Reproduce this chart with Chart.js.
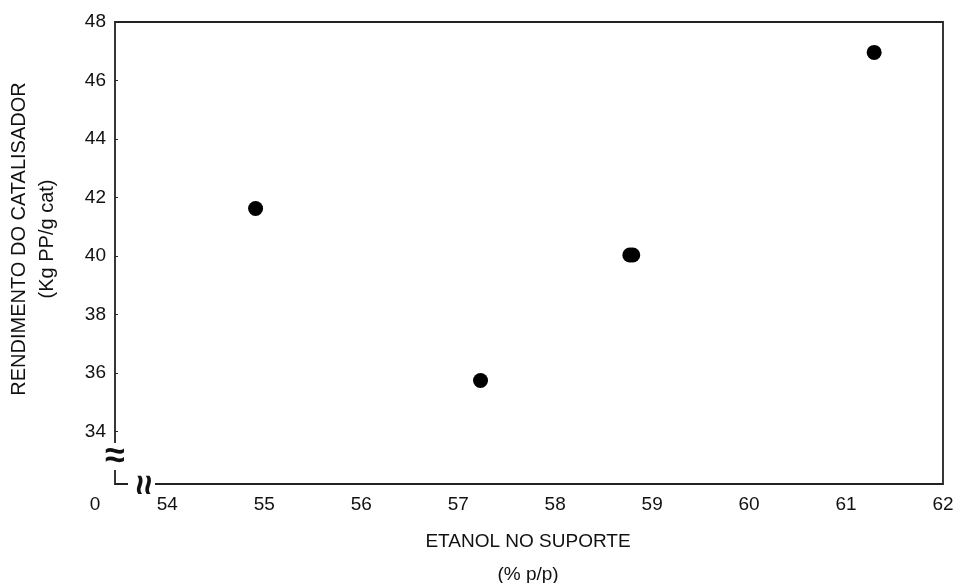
<!DOCTYPE html>
<html>
<head>
<meta charset="utf-8">
<script src="https://cdn.jsdelivr.net/npm/chart.js@4"></script>
<style>
    html, body { margin: 0; padding: 0; background: #fff; overflow: hidden; }
    #wrap { width: 956px; height: 583px; }
</style>
</head>
<body>
<div id="wrap"><canvas id="yieldChart"></canvas></div>
<script>
// Data
// ----------------------------------------------
const etanolValues = [54.91, 57.23, 58.77, 58.80, 61.29];
const rendimentoValues = [41.62, 35.74, 40.03, 40.03, 46.96];
const xTickLabels = [54, 55, 56, 57, 58, 59, 60, 61, 62];
const yTickLabels = [34, 36, 38, 40, 42, 44, 46, 48];

const inkColor = '#111';
const frameColor = '#222';
const fontFamily = '"Liberation Sans", Arial, sans-serif';


// Frame with broken axes, inward ticks and axis titles
// ----------------------------------------------
const framePlugin = {
    id: 'brokenFrame',
    afterDraw(chart) {
        const ctx = chart.ctx;
        const a = chart.chartArea;
        const y = chart.scales.y;
        const yBreak = y.getPixelForValue(33.6);

        ctx.save();
        ctx.strokeStyle = frameColor;
        ctx.lineWidth = 1.8;

        // top, right, bottom (after break), left (above break)
        ctx.beginPath();
        ctx.moveTo(a.left, yBreak);
        ctx.lineTo(a.left, a.top);
        ctx.lineTo(a.right, a.top);
        ctx.lineTo(a.right, a.bottom);
        ctx.lineTo(a.left + 40, a.bottom);
        ctx.stroke();

        // corner piece at the origin
        ctx.beginPath();
        ctx.moveTo(a.left, a.bottom - 14);
        ctx.lineTo(a.left, a.bottom);
        ctx.lineTo(a.left + 13, a.bottom);
        ctx.stroke();

        // inward ticks on y
        ctx.lineWidth = 1;
        yTickLabels.forEach(v => {
            const py = Math.round(y.getPixelForValue(v)) + 0.5;
            ctx.beginPath();
            ctx.moveTo(a.left, py);
            ctx.lineTo(a.left + 3, py);
            ctx.stroke();
        });

        // break symbols
        ctx.fillStyle = inkColor;
        ctx.font = 'bold 36px ' + fontFamily;
        ctx.textAlign = 'center';
        ctx.textBaseline = 'middle';
        ctx.fillText('\u2248', a.left, a.bottom - 27);
        ctx.save();
        ctx.translate(a.left + 27, a.bottom + 1);
        ctx.rotate(Math.PI / 2);
        ctx.fillText('\u2248', 0, 0);
        ctx.restore();

        // origin label
        ctx.font = '19px ' + fontFamily;
        ctx.fillText('0', 95, 505);

        // axis titles
        ctx.fillText('ETANOL NO SUPORTE', 528, 542);
        ctx.fillText('(% p/p)', 528, 575);

        ctx.font = '20px ' + fontFamily;
        ctx.translate(19, 239);
        ctx.rotate(-Math.PI / 2);
        ctx.fillText('RENDIMENTO DO CATALISADOR', 0, 0);
        ctx.fillText('(Kg PP/g cat)', 0, 28);
        ctx.restore();
    }
};


document.addEventListener('DOMContentLoaded', () => {

    const points = etanolValues.map((x, i) => ({ x: x, y: rendimentoValues[i] }));

    new Chart(document.getElementById('yieldChart'), {
        type: 'scatter',
        data: {
            datasets: [{
                data: points,
                pointRadius: 7.5,
                pointHoverRadius: 7.5,
                pointBackgroundColor: '#000',
                pointBorderWidth: 0
            }]
        },
        options: {
            responsive: true,
            maintainAspectRatio: false,
            animation: false,
            events: [],
            layout: { padding: { top: 22, right: 13, left: 0, bottom: 0 } },
            plugins: {
                legend: { display: false },
                tooltip: { enabled: false }
            },
            scales: {
                x: {
                    type: 'linear',
                    min: 53.46,
                    max: 62,
                    afterBuildTicks: s => { s.ticks = xTickLabels.map(v => ({ value: v })); },
                    afterFit: s => { s.height = 99; s.paddingLeft = 0; s.paddingRight = 0; },
                    grid: { display: false, drawTicks: false },
                    border: { display: false },
                    ticks: {
                        padding: 9,
                        color: inkColor,
                        font: { family: fontFamily, size: 19 },
                        maxRotation: 0
                    }
                },
                y: {
                    min: 32.2,
                    max: 48,
                    afterBuildTicks: s => { s.ticks = yTickLabels.map(v => ({ value: v })); },
                    afterFit: s => { s.width = 115; s.paddingTop = 0; s.paddingBottom = 0; },
                    grid: { display: false, drawTicks: false },
                    border: { display: false },
                    ticks: {
                        padding: 9,
                        color: inkColor,
                        font: { family: fontFamily, size: 19 }
                    }
                }
            }
        },
        plugins: [framePlugin]
    });

});
</script>
</body>
</html>
